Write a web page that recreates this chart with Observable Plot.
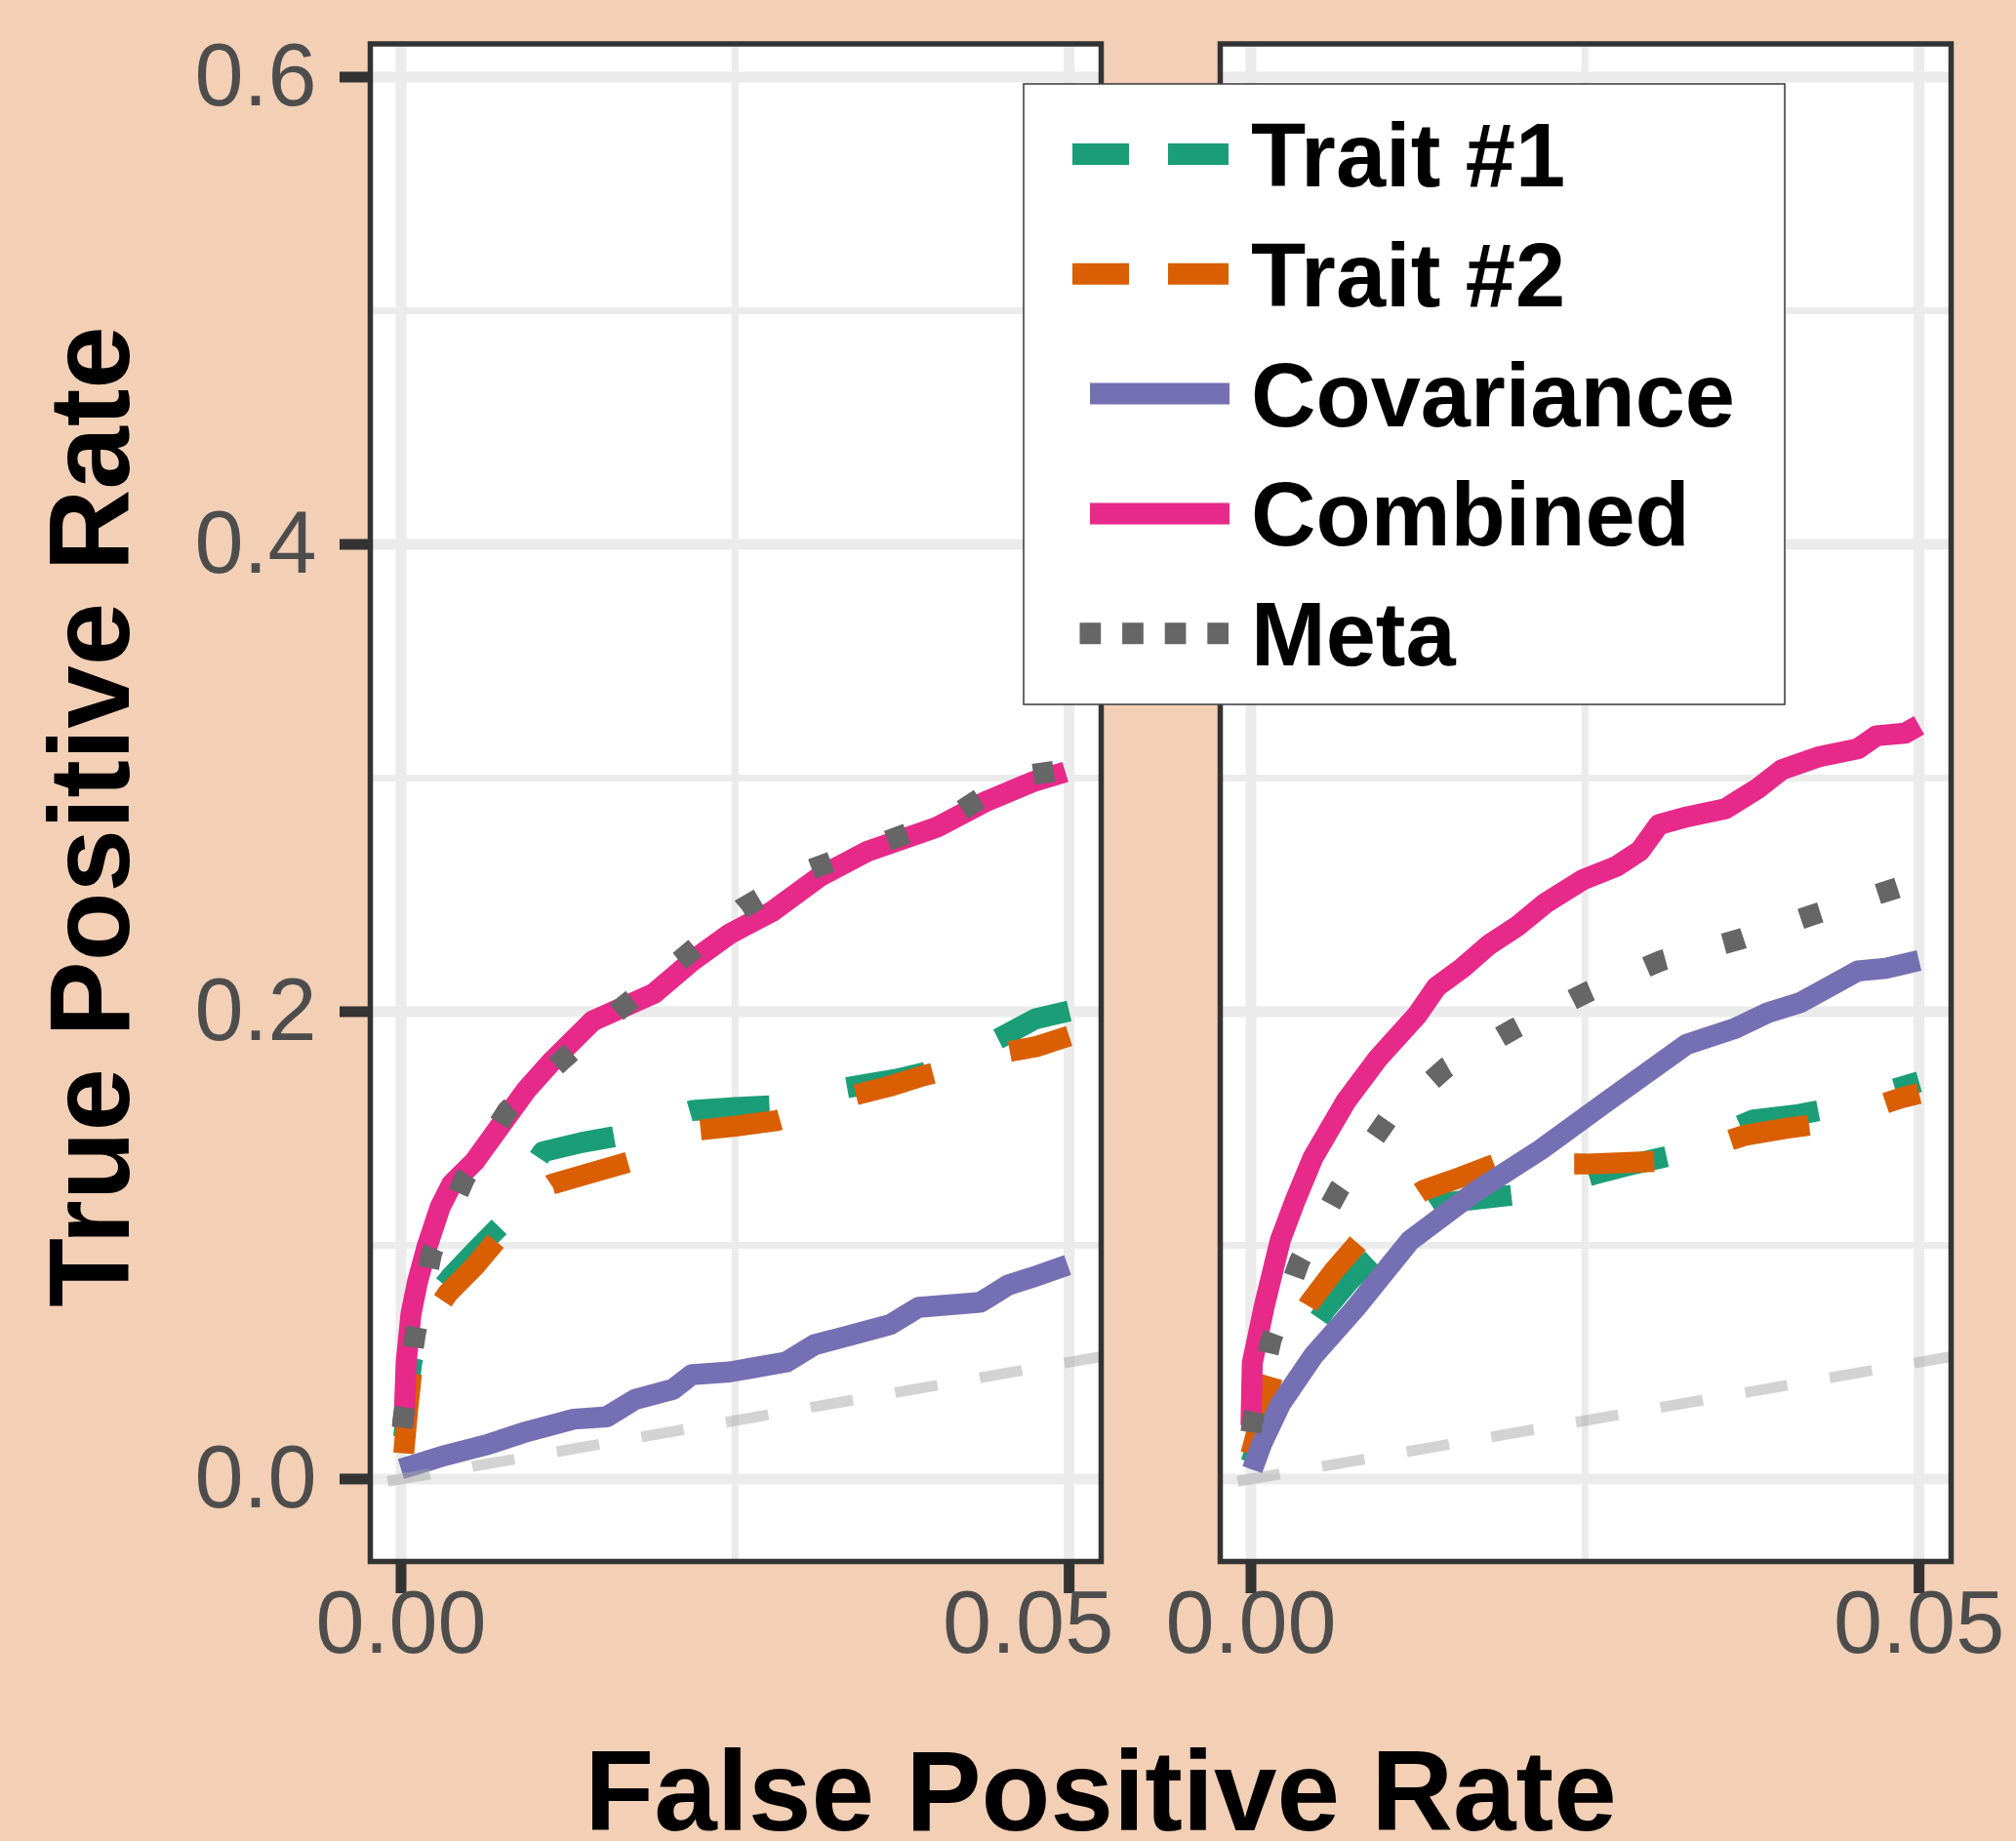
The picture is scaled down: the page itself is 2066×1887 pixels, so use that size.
<!DOCTYPE html>
<html><head><meta charset="utf-8">
<script src="https://cdn.jsdelivr.net/npm/d3@7"></script>
<script src="https://cdn.jsdelivr.net/npm/@observablehq/plot@0.6"></script>
<style>
html,body{margin:0;padding:0;background:#f2cfb5;}
#wrap{position:relative;width:2066px;height:1887px;overflow:hidden;background:#f2cfb5;font-family:"Liberation Sans",Arial,Helvetica,sans-serif;}
#wrap svg{position:absolute;left:0;top:0;}
</style></head><body><div id="wrap"></div>
<script>
// ---- data ----
const panels = ["A", "B"];
const seriesNames = ["Trait #1", "Trait #2", "Covariance", "Combined", "Meta"];
const seriesColors = ["#1b9e77", "#d95f02", "#7570b3", "#e7298a", "#666666"];
const seriesDash = ["82,82", "82,82", null, null, "21,62"];
const xTicks = [0, 0.05];
const xMinor = [0.025];
const yTicks = [0, 0.2, 0.4, 0.6];
const yMinor = [0.1, 0.3, 0.5];
const xTickLabels = ["0.00", "0.05"];
const yTickLabels = ["0.0", "0.2", "0.4", "0.6"];
const diagonal = [-0.001, 0.0524];

const leftTrait1 = [[0.0002,0.018],[0.0005,0.035],[0.0008,0.05],[0.0015,0.065],[0.0025,0.078],[0.0038,0.087],[0.0058,0.099],[0.0077,0.11],[0.0092,0.128],[0.0106,0.14],[0.0135,0.144],[0.0164,0.147],[0.019,0.153],[0.0218,0.1577],[0.025,0.159],[0.0281,0.1598],[0.031,0.165],[0.0342,0.1683],[0.037,0.171],[0.0398,0.1747],[0.0425,0.182],[0.0451,0.1896],[0.0475,0.197],[0.05,0.2003]];
const leftTrait2 = [[0.0002,0.011],[0.0005,0.03],[0.0008,0.046],[0.0015,0.06],[0.0025,0.071],[0.0035,0.0795],[0.0055,0.091],[0.0074,0.1039],[0.0092,0.118],[0.0113,0.1262],[0.0142,0.131],[0.0172,0.1359],[0.0195,0.143],[0.0221,0.1492],[0.025,0.151],[0.0281,0.1534],[0.031,0.158],[0.0338,0.1641],[0.0365,0.168],[0.0391,0.1726],[0.042,0.177],[0.0448,0.1822],[0.0475,0.185],[0.05,0.1896]];
const leftCov = [[0,0.0043],[0.00301,0.0096],[0.00655,0.0149],[0.00938,0.0202],[0.01292,0.0256],[0.01539,0.0266],[0.01752,0.0341],[0.02035,0.0384],[0.02176,0.0447],[0.02459,0.0458],[0.02884,0.0501],[0.03096,0.0575],[0.03309,0.0607],[0.03662,0.0661],[0.03875,0.0735],[0.04335,0.0756],[0.04547,0.0831],[0.04724,0.0863],[0.04989,0.0916]];
const leftComb = [[0.0001,0.022],[0.00026,0.03],[0.00038,0.0496],[0.00074,0.0705],[0.00123,0.0844],[0.00196,0.0997],[0.00293,0.1164],[0.0038,0.1262],[0.0055,0.1359],[0.00743,0.1512],[0.00938,0.1665],[0.01133,0.179],[0.01433,0.196],[0.01893,0.2078],[0.02176,0.2216],[0.02459,0.2333],[0.02778,0.2429],[0.03132,0.2578],[0.03485,0.2685],[0.04016,0.2791],[0.0437,0.2898],[0.04724,0.2983],[0.04972,0.3026]];
const leftMeta = [[0.0001,0.022],[0.00018,0.0266],[0.00106,0.0618],[0.0023,0.097],[0.00478,0.1289],[0.00796,0.1577],[0.01221,0.1801],[0.01645,0.2014],[0.02105,0.2227],[0.02548,0.244],[0.03025,0.26],[0.03574,0.2717],[0.04122,0.2834],[0.04582,0.3004],[0.04972,0.3036]];

const rightTrait1 = [[0,0.007],[0.0008,0.02],[0.0022,0.0388],[0.0038,0.058],[0.0056,0.0727],[0.0074,0.085],[0.0093,0.0953],[0.0115,0.108],[0.0141,0.1179],[0.0172,0.12],[0.0205,0.1221],[0.023,0.126],[0.0258,0.1306],[0.0288,0.135],[0.0319,0.139],[0.0348,0.147],[0.0376,0.1537],[0.041,0.156],[0.044,0.1593],[0.047,0.165],[0.05,0.17]];
const rightTrait2 = [[0,0.0106],[0.0008,0.028],[0.0017,0.0459],[0.003,0.062],[0.0044,0.0755],[0.0062,0.089],[0.008,0.1009],[0.0104,0.114],[0.0129,0.1235],[0.0156,0.129],[0.0183,0.1348],[0.0216,0.1348],[0.0251,0.1348],[0.0283,0.1355],[0.0314,0.1362],[0.0342,0.142],[0.0369,0.147],[0.04,0.15],[0.0433,0.1526],[0.046,0.158],[0.0486,0.163],[0.05,0.165]];
const rightCov = [[0.0001,0.004],[0.0008,0.015],[0.0022,0.032],[0.0047,0.053],[0.0078,0.073],[0.0119,0.102],[0.0168,0.123],[0.0217,0.141],[0.0265,0.161],[0.0326,0.186],[0.0362,0.1928],[0.03868,0.1996],[0.04115,0.204],[0.04328,0.2107],[0.0454,0.2174],[0.04752,0.2186],[0.05,0.2219]];
const rightComb = [[0,0.023],[0.0001,0.0497],[0.001,0.0741],[0.0022,0.1023],[0.0033,0.119],[0.00465,0.1376],[0.0071,0.1616],[0.0095,0.18],[0.0124,0.1983],[0.0139,0.2107],[0.0158,0.2186],[0.0178,0.2286],[0.01992,0.2365],[0.02205,0.2465],[0.02488,0.2566],[0.02735,0.2622],[0.02912,0.2689],[0.03054,0.2801],[0.03266,0.2834],[0.03549,0.2868],[0.03797,0.2957],[0.03974,0.3036],[0.04257,0.3092],[0.0454,0.3125],[0.04682,0.3181],[0.04894,0.3192],[0.05,0.3226]];
const rightMeta = [[0,0.02],[0.0001,0.0239],[0.00152,0.0597],[0.00364,0.0933],[0.00665,0.1246],[0.01019,0.1537],[0.01461,0.1761],[0.01975,0.1928],[0.02523,0.2085],[0.03071,0.2219],[0.03655,0.2309],[0.04239,0.2421],[0.04788,0.2521],[0.05,0.256]];

const curveData = {
  A: [leftTrait1, leftTrait2, leftCov, leftComb, leftMeta],
  B: [rightTrait1, rightTrait2, rightCov, rightComb, rightMeta]
};

// ---- build table ----
const rows = [];
for (const p of panels) {
  curveData[p].forEach((arr, i) => {
    for (const [x, y] of arr) rows.push({panel: p, series: seriesNames[i], x, y});
  });
}
const xLabelRows = [];
for (const p of panels) xTicks.forEach((t, i) => xLabelRows.push({panel: p, x: t, label: xTickLabels[i], shift: p === "A" && i === xTicks.length - 1}));

const font = '"Liberation Sans", Arial, Helvetica, sans-serif';
const grid = "#ebebeb";

const lineMarks = seriesNames.map((s, i) => Plot.line(rows.filter(d => d.series === s), {
  x: "x", y: "y", fx: "panel",
  stroke: seriesColors[i], strokeWidth: 21.5,
  strokeDasharray: seriesDash[i] || undefined,
  strokeLinecap: "butt", strokeLinejoin: "round"
}));

const chart = Plot.plot({
  width: 2066, height: 1887,
  marginLeft: 378, marginRight: 67, marginTop: 44.5, marginBottom: 287,
  style: {background: "transparent", fontFamily: font, overflow: "visible"},
  x: {domain: [-0.0023, 0.0524]},
  y: {domain: [-0.0353, 0.6142]},
  fx: {domain: panels, axis: null, paddingInner: 0.1406, paddingOuter: 0},
  marks: [
    Plot.frame({fill: "white"}),
    Plot.ruleY(yMinor, {stroke: grid, strokeWidth: 7}),
    Plot.ruleX(xMinor, {stroke: grid, strokeWidth: 7}),
    Plot.ruleY(yTicks, {stroke: grid, strokeWidth: 11}),
    Plot.ruleX(xTicks, {stroke: grid, strokeWidth: 11}),
    ...lineMarks,
    Plot.line(diagonal, {x: d => d, y: d => d, stroke: "#a8a8a8", strokeOpacity: 0.5, strokeWidth: 11, strokeDasharray: "44,44", strokeLinecap: "butt"}),
    Plot.frame({stroke: "#333333", strokeWidth: 5.5}),
    Plot.axisY({ticks: yTicks, tickSize: 31, tickPadding: 24, tickFormat: (d, i) => yTickLabels[i], stroke: "#333333", strokeWidth: 11, fill: "#4d4d4d", fontSize: 90, label: null}),
    Plot.axisX({ticks: xTicks, tickSize: 33, tickFormat: () => "", stroke: "#333333", strokeWidth: 11, label: null}),
    Plot.text(xLabelRows.filter(d => !d.shift), {x: "x", fx: "panel", text: "label", frameAnchor: "bottom", dy: 93, fontSize: 90, fill: "#4d4d4d"}),
    Plot.text(xLabelRows.filter(d => d.shift), {x: "x", fx: "panel", text: "label", frameAnchor: "bottom", dy: 93, dx: -42, fontSize: 90, fill: "#4d4d4d"})
  ]
});
document.getElementById("wrap").appendChild(chart);

// ---- titles and legend overlay ----
const ov = d3.select("#wrap").append("svg")
  .attr("width", 2066).attr("height", 1887)
  .style("font-family", font);
ov.append("text").attr("transform", "translate(132,837) rotate(-90)")
  .attr("text-anchor", "middle").attr("font-weight", "bold").attr("font-size", 116).attr("fill", "#000")
  .text("True Positive Rate");
ov.append("text").attr("x", 1128).attr("y", 1876)
  .attr("text-anchor", "middle").attr("font-weight", "bold").attr("font-size", 116).attr("fill", "#000")
  .text("False Positive Rate");

const lg = ov.append("g");
lg.append("rect").attr("x", 1049).attr("y", 86).attr("width", 780).attr("height", 636)
  .attr("fill", "white").attr("stroke", "#444").attr("stroke-width", 1.6);
const keyDash = ["58,40,62", "58,40,62", null, null, "21.7,21.9"];
const keyStart = [1099, 1099, 1117, 1117, 1106.5];
seriesNames.forEach((s, i) => {
  const cy = 158 + i * 122.8;
  const ln = lg.append("line").attr("x1", keyStart[i]).attr("x2", 1260).attr("y1", cy).attr("y2", cy)
    .attr("stroke", seriesColors[i]).attr("stroke-width", 22).attr("stroke-linecap", "butt");
  if (keyDash[i]) ln.attr("stroke-dasharray", keyDash[i]);
  lg.append("text").attr("x", 1282).attr("y", cy + 33).attr("font-size", 92).attr("font-weight", "bold")
    .attr("fill", "#000").text(s);
});
</script></body></html>
